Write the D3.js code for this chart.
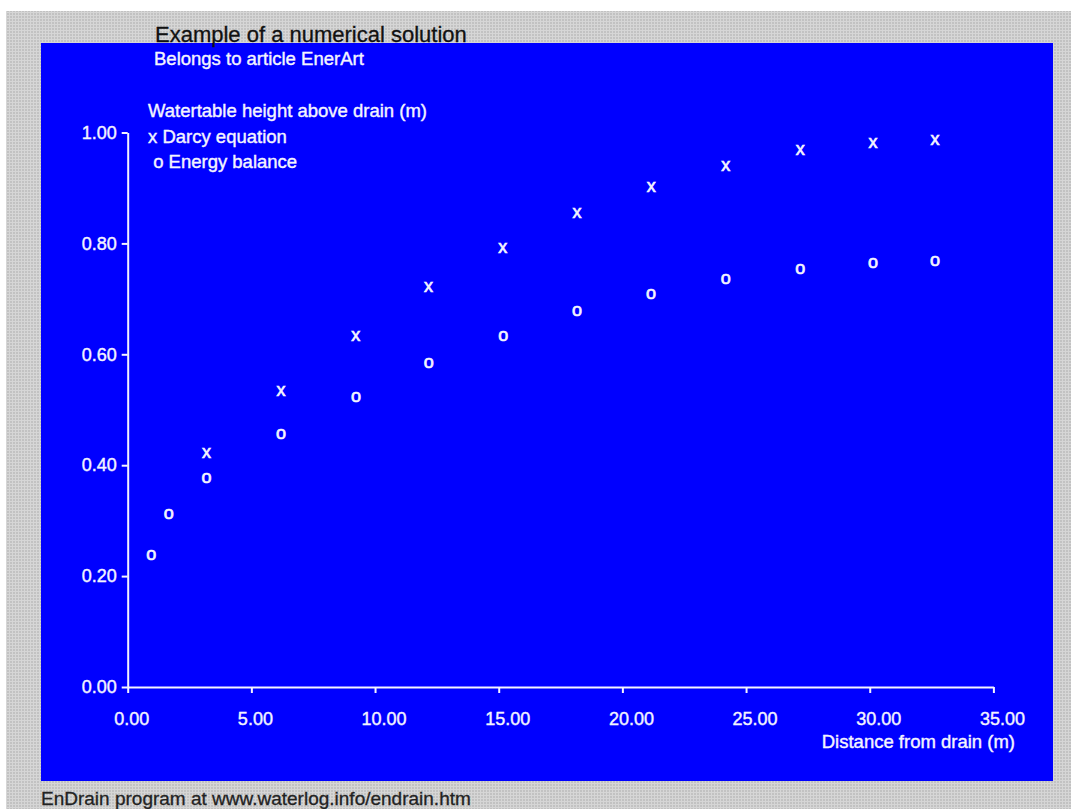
<!DOCTYPE html>
<html>
<head>
<meta charset="utf-8">
<script src="https://cdn.jsdelivr.net/npm/d3@7"></script>
<style>
  body { margin: 0; background: #fff; }
  text { font-family: "Liberation Sans", Arial, sans-serif; }
</style>
</head>
<body>
<div id="chart"></div>
<script>
// data
const darcyX = [3.19, 6.20, 9.22, 12.16, 15.16, 18.17, 21.17, 24.18, 27.19, 30.13, 32.64];
const darcyY = [0.421, 0.533, 0.632, 0.721, 0.792, 0.855, 0.902, 0.939, 0.967, 0.980, 0.986];
const energyX = [0.95, 1.66, 3.19, 6.20, 9.23, 12.17, 15.18, 18.17, 21.16, 24.18, 27.19, 30.13, 32.64];
const energyY = [0.237, 0.312, 0.377, 0.455, 0.523, 0.583, 0.632, 0.677, 0.708, 0.735, 0.754, 0.764, 0.767];
const xTicks = [0, 5, 10, 15, 20, 25, 30, 35];
const yTicks = [0, 0.2, 0.4, 0.6, 0.8, 1.0];

const title = "Example of a numerical solution";
const subtitle = "Belongs to article EnerArt";
const legendLines = ["Watertable height above drain (m)", "x Darcy equation", " o Energy balance"];
const xLabel = "Distance from drain (m)";
const footer = "EnDrain program at www.waterlog.info/endrain.htm";

const width = 1071, height = 809;
const fg = "#f4f4ff";

const svg = d3.select("#chart").append("svg")
    .attr("width", width)
    .attr("height", height);

// dotted grey background
const defs = svg.append("defs");
const pat = defs.append("pattern")
    .attr("id", "dots")
    .attr("width", 3).attr("height", 3)
    .attr("patternUnits", "userSpaceOnUse");
pat.append("rect").attr("width", 3).attr("height", 3).attr("fill", "#c2c2c2");
pat.append("rect").attr("width", 1).attr("height", 3).attr("fill", "#d6d6d6");
pat.append("rect").attr("width", 3).attr("height", 1).attr("fill", "#d6d6d6");

svg.append("rect")
    .attr("x", 6).attr("y", 11)
    .attr("width", width - 6).attr("height", height - 11)
    .attr("fill", "url(#dots)");

// blue panel
svg.append("rect")
    .attr("x", 41).attr("y", 43)
    .attr("width", 1012).attr("height", 738)
    .attr("fill", "#0000ff");

svg.append("text")
    .attr("x", 155).attr("y", 42)
    .attr("font-size", "22px")
    .attr("fill", "#111")
    .attr("stroke", "#111").attr("stroke-width", 0.3)
    .text(title);

svg.append("text")
    .attr("x", 154).attr("y", 65)
    .attr("font-size", "18.5px")
    .attr("fill", fg)
    .attr("stroke", fg).attr("stroke-width", 0.4)
    .text(subtitle);

svg.append("g").selectAll("text")
    .data(legendLines)
    .enter().append("text")
    .attr("x", 148)
    .attr("y", (d, i) => [117, 143, 168][i])
    .attr("font-size", "18.5px")
    .attr("fill", fg)
    .attr("stroke", fg).attr("stroke-width", 0.4)
    .attr("xml:space", "preserve")
    .style("white-space", "pre")
    .text(d => d);

// scales
const x = d3.scaleLinear().domain([0, 35]).range([127.7, 993.4]);
const y = d3.scaleLinear().domain([0, 1]).range([687, 132.5]);

const xAxis = svg.append("g")
    .attr("transform", `translate(0,${y(0)})`)
    .call(d3.axisBottom(x).tickValues(xTicks).tickFormat(d3.format(".2f")).tickSizeInner(6).tickSizeOuter(0));

const yAxis = svg.append("g")
    .attr("transform", `translate(${x(0)},0)`)
    .call(d3.axisLeft(y).tickValues(yTicks).tickFormat(d3.format(".2f")).tickSizeInner(6).tickSizeOuter(0));

[xAxis, yAxis].forEach(a => {
    a.select(".domain").attr("stroke", fg).attr("stroke-width", 2);
    a.selectAll(".tick line").attr("stroke", fg).attr("stroke-width", 2);
    a.selectAll(".tick text")
        .attr("fill", fg)
        .attr("stroke", fg).attr("stroke-width", 0.4)
        .attr("font-size", "18px")
        .attr("font-family", "'Liberation Sans', Arial, sans-serif");
});

xAxis.selectAll(".tick text")
    .attr("text-anchor", "start")
    .attr("x", -14)
    .attr("y", 38)
    .attr("dy", null);

yAxis.selectAll(".tick text")
    .attr("x", -11);

svg.append("text")
    .attr("x", 1015).attr("y", 748)
    .attr("text-anchor", "end")
    .attr("font-size", "18.5px")
    .attr("fill", fg)
    .attr("stroke", fg).attr("stroke-width", 0.4)
    .text(xLabel);

// markers drawn as characters, like the original
svg.append("g").selectAll("text")
    .data(darcyX.map((d, i) => [d, darcyY[i]]))
    .enter().append("text")
    .attr("x", d => x(d[0]))
    .attr("y", d => y(d[1]))
    .attr("dy", "0.26em")
    .attr("text-anchor", "middle")
    .attr("font-size", "18px")
    .attr("fill", fg)
    .attr("stroke", fg).attr("stroke-width", 0.7)
    .text("x");

svg.append("g").selectAll("text")
    .data(energyX.map((d, i) => [d, energyY[i]]))
    .enter().append("text")
    .attr("x", d => x(d[0]))
    .attr("y", d => y(d[1]))
    .attr("dy", "0.26em")
    .attr("text-anchor", "middle")
    .attr("font-size", "18px")
    .attr("fill", fg)
    .attr("stroke", fg).attr("stroke-width", 0.7)
    .text("o");

svg.append("text")
    .attr("x", 41).attr("y", 805)
    .attr("font-size", "19px")
    .attr("fill", "#222")
    .attr("stroke", "#222").attr("stroke-width", 0.3)
    .text(footer);
</script>
</body>
</html>
